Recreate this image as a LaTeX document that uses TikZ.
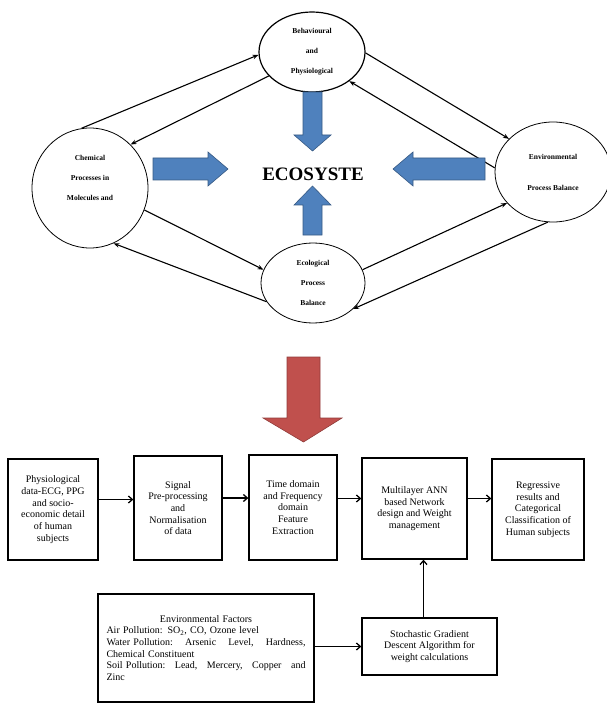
\documentclass[tikz,border=0pt]{standalone}
\usepackage{fontspec}
\setmainfont{Liberation Serif}
\usetikzlibrary{shapes.geometric,arrows.meta}

\definecolor{blockblue}{RGB}{79,129,189}
\definecolor{blockred}{RGB}{192,80,77}

\tikzset{
  bubble/.style={ellipse, draw, line width=0.8pt, inner sep=0pt, align=center,
    font=\fontsize{7.5}{20}\selectfont\bfseries},
  link/.style={line width=1.1pt, -{Stealth[length=6pt,width=4.5pt]}},
  stage/.style={draw, line width=1.3pt, align=center, inner sep=2pt,
    font=\fontsize{10}{11.7}\selectfont},
  flow/.style={line width=1.3pt, -{Straight Barb[length=4pt,width=7pt]}},
  bluearrow/.style={fill=blockblue, draw=blockblue!70!black, line width=0.6pt},
  redarrow/.style={fill=blockred, draw=blockred!75!black, line width=0.6pt},
}

\begin{document}
\begin{tikzpicture}[x=1pt,y=-1pt]
\useasboundingbox (0,0) rectangle (606,703);

% Ecosystem part
\node[bubble, line width=1.2pt, minimum width=106pt, minimum height=80pt] (behav) at (312,52) {Behavioural\\and\\Physiological};
\node[bubble, minimum width=116pt, minimum height=120pt] (chem) at (90,188) {Chemical\\Processes in\\Molecules and\\ \mbox{}};
\node[bubble, minimum width=116pt, minimum height=100pt] (envp) at (553,172) {Environmental\\[11pt]Process Balance};
\node[bubble, minimum width=104pt, minimum height=80pt] (ecol) at (313,283) {Ecological\\Process\\Balance};

\node[font=\fontsize{19}{19}\selectfont\bfseries] (eco) at (313,174) {ECOSYSTE};

\draw[link] (chem.98) -- (behav.183);
\draw[link] (behav.209) -- (chem.47);
\draw[link] (behav.-1) -- (envp.143);
\draw[link] (envp.176) -- (behav.-38);
\draw[link] (chem.-22) -- (ecol.165);
\draw[link] (ecol.202) -- (chem.-67);
\draw[link] (ecol.15) -- (envp.214);
\draw[link] (envp.264) -- (ecol.-33);

% Block arrows
\filldraw[bluearrow] (303,92) -- (322,92) -- (322,135) -- (331,135) -- (312.5,151) -- (294,135) -- (303,135) -- cycle;
\filldraw[bluearrow] (153,158) -- (208,158) -- (208,152) -- (228,169) -- (208,186) -- (208,180) -- (153,180) -- cycle;
\filldraw[bluearrow] (485,158) -- (413,158) -- (413,152) -- (393,169) -- (413,186) -- (413,180) -- (485,180) -- cycle;
\filldraw[bluearrow] (303,235) -- (322,235) -- (322,205) -- (331,205) -- (312.5,186) -- (294,205) -- (303,205) -- cycle;

\filldraw[redarrow] (287,357) -- (320,357) -- (320,418) -- (342,418) -- (303.5,442) -- (263,418) -- (287,418) -- cycle;

% Processing chain
\node[stage, minimum width=90pt, minimum height=101pt] (phys) at (53,509.5) {Physiological\\data-ECG, PPG\\and socio-\\economic detail\\of human\\subjects};
\node[stage, minimum width=88pt, minimum height=104pt] (sig) at (178,508) {Signal\\Pre-processing\\and\\Normalisation\\of data};
\node[stage, minimum width=88pt, minimum height=105pt] (feat) at (293,507.5) {Time domain\\and Frequency\\domain\\Feature\\Extraction};
\node[stage, minimum width=105pt, minimum height=101pt] (ann) at (414.5,508.5) {Multilayer ANN\\based Network\\design and Weight\\management};
\node[stage, minimum width=92pt, minimum height=101pt] (res) at (538,509.5) {Regressive\\results and\\Categorical\\Classification of\\Human subjects};

\node[stage, minimum width=216pt, minimum height=108pt, text width=199pt, align=left] (envf) at (206,648)
  {\makebox[199pt]{Environmental Factors}\\
   Air Pollution: SO\textsubscript{2}, CO, Ozone level\\
   \makebox[199pt][l]{Water Pollution:\hfill Arsenic\hfill Level,\hfill Hardness,}\\
   Chemical Constituent\\
   \makebox[199pt][l]{Soil Pollution:\hfill Lead,\hfill Mercery,\hfill Copper\hfill and}\\
   Zinc};
\node[stage, minimum width=135pt, minimum height=57pt] (sgd) at (429.5,646.5) {Stochastic Gradient\\Descent Algorithm for\\weight calculations};

\draw[flow] ([yshift=10pt]phys.east) -- ([yshift=10pt]phys.east -| sig.west);
\draw[flow] ([yshift=10pt]sig.east) -- ([yshift=10pt]sig.east -| feat.west);
\draw[flow] ([yshift=9pt]feat.east) -- ([yshift=9pt]feat.east -| ann.west);
\draw[flow] ([yshift=10pt]ann.east) -- ([yshift=10pt]ann.east -| res.west);
\draw[flow] (envf.east |- sgd.west) -- (sgd.west);
\draw[flow] ([xshift=-6pt]sgd.north) -- ([xshift=-6pt]sgd.north |- ann.south);
\end{tikzpicture}
\end{document}
